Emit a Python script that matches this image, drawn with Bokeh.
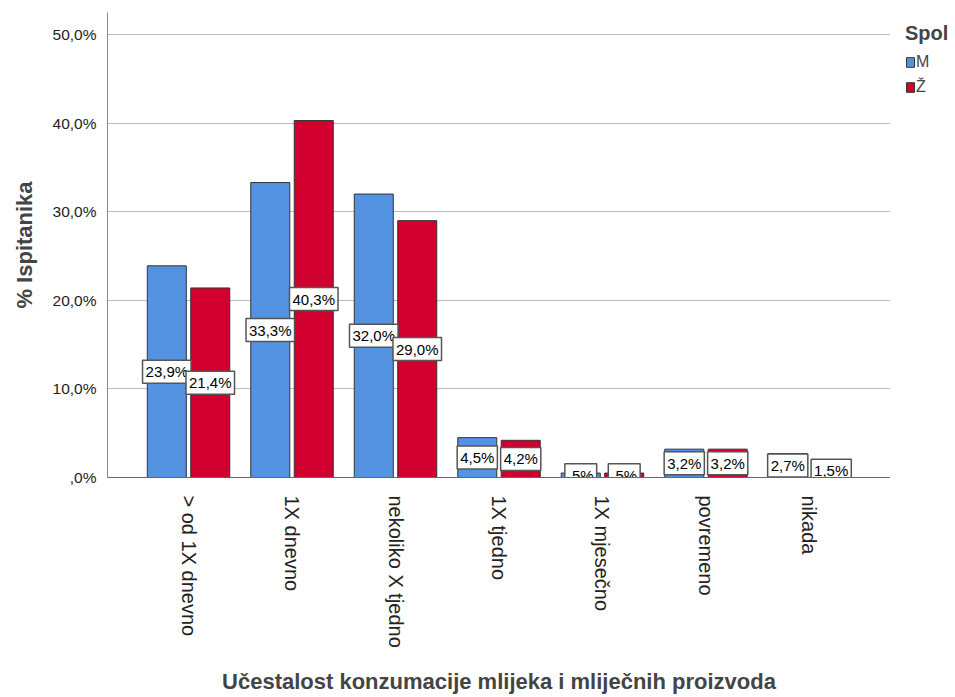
import math
from bokeh.plotting import figure
from bokeh.layouts import row
from bokeh.models import (ColumnDataSource, FactorRange, FixedTicker,
                          Legend, LegendItem, Range1d)
from bokeh.core.properties import value
from bokeh.transform import dodge
from bokeh.embed import file_html
from bokeh.resources import INLINE

categories = ["> od 1X dnevno", "1X dnevno", "nekoliko X tjedno", "1X tjedno",
              "1X mjesečno", "povremeno", "nikada"]
m_values = [23.9, 33.3, 32.0, 4.5, 0.5, 3.2, 2.7]
z_values = [21.4, 40.3, 29.0, 4.2, 0.5, 3.2, 1.5]
y_ticks = [0, 10, 20, 30, 40, 50]
y_tick_labels = [",0%", "10,0%", "20,0%", "30,0%", "40,0%", "50,0%"]
series_names = ["M", "Ž"]
legend_title = "Spol"

BLUE = "#5393E1"
RED = "#D2002E"
FONT = "Liberation Sans"

TOP, BOTTOM = 12, 219


def fmt(v):
    s = f"{v:.1f}".replace(".", ",")
    if s.startswith("0,"):
        s = s[1:]
    return s + "%"


src = ColumnDataSource(dict(
    cat=categories,
    m=m_values,
    z=z_values,
    m_mid=[v / 2 for v in m_values],
    z_mid=[v / 2 for v in z_values],
    m_lab=[fmt(v) for v in m_values],
    z_lab=[fmt(v) for v in z_values],
))

p = figure(
    width=890, height=696,
    x_range=FactorRange(*categories, range_padding=0.283, range_padding_units="absolute"),
    y_range=Range1d(0, 52.5),
    output_backend="svg", toolbar_location=None,
    min_border_left=107, min_border_top=TOP, min_border_bottom=BOTTOM, min_border_right=0,
)
p.outline_line_color = None
p.background_fill_color = "white"

off = 0.21
bw = 0.377
rm = p.vbar(x=dodge("cat", -off, range=p.x_range), top="m", bottom=0, width=bw, source=src,
            fill_color=BLUE, line_color="#333333", line_width=1)
rz = p.vbar(x=dodge("cat", off, range=p.x_range), top="z", bottom=0, width=bw, source=src,
            fill_color=RED, line_color="#333333", line_width=1)

for col_mid, col_lab, o in (("m_mid", "m_lab", -off), ("z_mid", "z_lab", off)):
    p.text(x=dodge("cat", o, range=p.x_range), y=col_mid, text=col_lab, source=src,
           text_align="center", text_baseline="middle",
           text_font=value(FONT), text_font_size="15px", text_color="black",
           background_fill_color="white", border_line_color="#555555",
           border_line_width=1.5, padding=3)

# axes
p.yaxis.ticker = FixedTicker(ticks=y_ticks)
p.yaxis.major_label_overrides = {t: l for t, l in zip(y_ticks, y_tick_labels)}
p.yaxis.major_label_text_font = FONT
p.yaxis.major_label_text_font_size = "15.5px"
p.yaxis.major_label_text_color = "#222222"
p.yaxis.major_tick_line_color = None
p.yaxis.minor_tick_line_color = None
p.yaxis.axis_line_color = "#888888"
p.yaxis.major_label_standoff = 5
p.yaxis.axis_label = "% Ispitanika"
p.yaxis.axis_label_text_font = FONT
p.yaxis.axis_label_text_font_style = "bold"
p.yaxis.axis_label_text_font_size = "22px"
p.yaxis.axis_label_standoff = 13

p.xaxis.major_label_orientation = -math.pi / 2
p.xaxis.major_label_text_font = FONT
p.xaxis.major_label_text_font_size = "20px"
p.xaxis.major_label_text_color = "#222222"
p.xaxis.major_tick_line_color = None
p.xaxis.minor_tick_line_color = None
p.xaxis.axis_line_color = "#666666"
p.xaxis.major_label_standoff = 12
p.xaxis.axis_label = "Učestalost konzumacije mlijeka i mliječnih proizvoda"
p.xaxis.axis_label_text_font = FONT
p.xaxis.axis_label_text_font_style = "bold"
p.xaxis.axis_label_text_font_size = "22px"
p.xaxis.axis_label_standoff = 18

p.xgrid.grid_line_color = None
p.ygrid.grid_line_color = "#BBBBBB"
p.ygrid.grid_line_width = 1

# legend panel (separate narrow figure to the right of the plot)
lg = figure(width=64, height=696, output_backend="svg", toolbar_location=None,
            x_axis_location=None, y_axis_location=None,
            min_border_left=5, min_border_right=0, min_border_top=TOP, min_border_bottom=BOTTOM,
            x_range=Range1d(0, 1), y_range=Range1d(0, 1))
lg.outline_line_color = None
lg.grid.grid_line_color = None
# swatch renderers for the legend, drawn outside the visible range
off_src = ColumnDataSource(dict(x=[5], top=[5]))
lm = lg.vbar(x="x", top="top", width=0.1, source=off_src, fill_color=BLUE, line_color="#333333")
lz = lg.vbar(x="x", top="top", width=0.1, source=off_src, fill_color=RED, line_color="#333333")

legend = Legend(
    items=[LegendItem(label=series_names[0], renderers=[lm]),
           LegendItem(label=series_names[1], renderers=[lz])],
    location="top_left",
    title=legend_title, title_text_font=FONT, title_text_font_style="bold",
    title_text_font_size="20px", title_standoff=8,
    label_text_font=FONT, label_text_font_size="16px",
    glyph_width=10, glyph_height=12, spacing=7, padding=0, margin=10,
    border_line_color=None, background_fill_alpha=0,
    label_standoff=1,
)
lg.add_layout(legend)

layout = row(p, lg, spacing=0)
open("out.html", "w").write(file_html(layout, INLINE))
